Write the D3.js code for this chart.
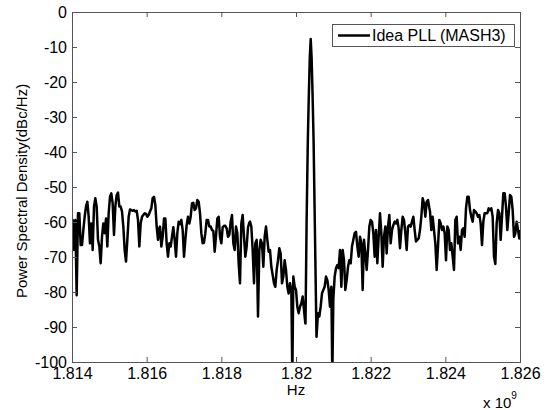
<!DOCTYPE html>
<html><head><meta charset="utf-8">
<script src="https://cdn.jsdelivr.net/npm/d3@7"></script>
<style>body{margin:0;background:#fff}svg{display:block}text{font-family:Arial,"Liberation Sans",sans-serif;fill:#000}</style>
</head><body><script>
const xTicks=[1814,1816,1818,1820,1822,1824,1826];
const xTickLabels=["1.814","1.816","1.818","1.82","1.822","1.824","1.826"];
const yTicks=[0,-10,-20,-30,-40,-50,-60,-70,-80,-90,-100];
const yTickLabels=["0","-10","-20","-30","-40","-50","-60","-70","-80","-90","-100"];
const seriesName="Idea PLL (MASH3)";
const xLabel="Hz", yLabel="Power Spectral Density(dBc/Hz)";
const freqMHz=[
1814.0000,1814.0179,1814.0536,1814.0893,1814.1250,1814.1607,1814.1964,1814.2321,1814.2679,1814.3036,
1814.3393,1814.3750,1814.4107,1814.4464,1814.4821,1814.5179,1814.5536,1814.5893,1814.6250,1814.6607,
1814.6964,1814.7321,1814.7679,1814.8036,1814.8393,1814.8750,1814.9107,1814.9464,1814.9821,1815.0179,
1815.0536,1815.0893,1815.1250,1815.1607,1815.1964,1815.2321,1815.2679,1815.3036,1815.3393,1815.3750,
1815.4107,1815.4464,1815.4821,1815.5179,1815.5536,1815.5893,1815.6250,1815.6607,1815.6964,1815.7321,
1815.7679,1815.8036,1815.8393,1815.8750,1815.9107,1815.9464,1815.9821,1816.0179,1816.0536,1816.0893,
1816.1250,1816.1607,1816.1964,1816.2321,1816.2679,1816.3036,1816.3393,
1816.3571,1816.3929,1816.4286,1816.4643,1816.5000,1816.5357,1816.5714,1816.6071,1816.6429,1816.6786,
1816.7143,1816.7500,1816.7857,1816.8214,1816.8571,1816.8929,1816.9286,1816.9643,1817.0000,1817.0357,
1817.0714,1817.1071,1817.1429,1817.1786,1817.2143,1817.2500,1817.2857,1817.3214,1817.3571,1817.3929,
1817.4286,1817.4643,1817.5000,1817.5357,1817.5714,1817.6071,1817.6429,1817.6786,1817.7143,1817.7500,
1817.7857,1817.8214,1817.8571,1817.8929,1817.9286,1817.9643,1818.0000,1818.0357,1818.0714,1818.1071,
1818.1429,1818.1786,1818.2143,1818.2500,1818.2857,1818.3214,1818.3571,1818.3929,1818.4286,1818.4643,
1818.5000,1818.5357,1818.5714,1818.6071,1818.6429,1818.6786,1818.7143,1818.7500,
1818.7679,1818.8036,1818.8393,1818.8750,1818.9107,1818.9464,1818.9821,1819.0179,1819.0536,1819.0893,
1819.1250,1819.1607,1819.1964,1819.2321,1819.2679,1819.3036,1819.3393,1819.3750,1819.4107,1819.4464,
1819.4821,1819.5179,1819.5536,1819.5893,1819.6250,1819.6607,1819.6964,1819.7321,1819.7679,1819.8036,
1819.8393,1819.8750,1819.9018,1819.9286,1819.9643,1820.0000,1820.0357,1820.0714,1820.1071,1820.1429,
1820.1786,1820.2143,1820.2500,
1820.2545,1820.2840,1820.3161,1820.3429,1820.3697,1820.3938,1820.4179,1820.4447,1820.4715,1820.5036,1820.5491,
1820.5893,1820.6250,1820.6607,1820.6964,1820.7321,1820.7679,1820.8036,1820.8393,1820.8750,1820.9107,
1820.9464,1820.9732,1821.0000,1821.0357,1821.0714,1821.1071,1821.1429,1821.1786,
1821.2143,1821.2500,1821.2857,1821.3214,1821.3571,1821.3929,1821.4286,1821.4643,1821.5000,1821.5357,
1821.5714,1821.6071,1821.6429,1821.6786,1821.7143,1821.7500,1821.7857,1821.8214,1821.8571,1821.8929,
1821.9286,1821.9643,1822.0000,1822.0357,1822.0714,1822.1071,1822.1429,1822.1786,1822.2143,1822.2500,
1822.2857,1822.3214,1822.3571,1822.3929,1822.4286,1822.4643,1822.5000,1822.5357,1822.5714,1822.6071,
1822.6429,1822.6786,1822.7143,1822.7500,1822.7857,1822.8214,1822.8571,1822.8929,1822.9286,1822.9643,
1823.0000,1823.0357,1823.0714,1823.1071,1823.1429,1823.1786,1823.2143,1823.2500,1823.2857,1823.3214,
1823.3571,1823.3929,1823.4286,1823.4643,1823.5000,1823.5357,1823.5714,
1823.5893,1823.6250,1823.6607,1823.6964,1823.7321,1823.7679,1823.8036,1823.8393,1823.8750,1823.9107,
1823.9464,1823.9821,1824.0179,1824.0536,1824.0893,1824.1250,1824.1607,1824.1964,1824.2321,1824.2679,
1824.3036,1824.3393,1824.3750,1824.4107,1824.4464,1824.4821,1824.5179,1824.5536,1824.5893,1824.6250,
1824.6607,1824.6964,1824.7321,1824.7679,1824.8036,1824.8393,1824.8750,1824.9107,1824.9464,1824.9821,
1825.0179,1825.0536,1825.0893,1825.1250,1825.1607,1825.1964,1825.2321,1825.2679,1825.3036,1825.3393,
1825.3750,1825.4107,1825.4464,1825.4821,1825.5179,1825.5536,1825.5893,1825.6250,1825.6607,1825.6964,
1825.7321,1825.7679,1825.8036,1825.8393,1825.8750,1825.9107,1825.9464,1825.9821,1826.0000
];
const psdDb=[
-64.2,-59.4,-68.0,-59.4,-80.9,-57.5,-57.5,-66.6,-66.6,-62.3,
-58.5,-55.6,-54.2,-58.5,-66.1,-60.4,-68.0,-55.6,-53.2,-55.6,
-65.1,-67.0,-71.8,-64.2,-60.4,-63.2,-59.0,-67.0,-57.5,-52.8,
-51.8,-54.7,-63.7,-55.6,-52.3,-51.6,-55.6,-55.6,-57.0,-61.3,
-68.0,-71.3,-65.1,-58.5,-56.4,-56.6,-56.8,-56.6,-57.0,-56.8,
-59.4,-67.0,-60.4,-58.5,-58.0,-57.5,-57.7,-58.5,-58.0,-57.0,
-56.1,-53.2,-52.8,-55.1,-61.3,-65.1,-61.8,
-61.3,-67.0,-64.2,-59.0,-59.0,-66.1,-69.9,-66.1,-67.0,-64.2,
-61.5,-65.1,-69.9,-63.2,-59.9,-60.6,-59.4,-62.3,-69.9,-65.1,
-60.9,-58.5,-60.4,-58.5,-54.7,-54.5,-56.6,-56.1,-53.7,-54.2,
-57.5,-63.2,-66.1,-65.9,-63.2,-59.4,-59.4,-61.3,-61.3,-62.3,
-62.5,-68.5,-64.0,-59.0,-58.5,-64.2,-66.1,-61.5,-61.1,-61.1,
-61.8,-64.2,-63.7,-59.9,-58.0,-66.1,-68.0,-61.3,-63.2,-71.8,
-77.5,-60.4,-58.0,-64.2,-69.9,-67.0,-61.5,-60.2,
-59.9,-61.3,-68.0,-77.5,-66.1,-65.1,-87.0,-68.0,-65.1,-66.1,
-72.8,-64.2,-61.3,-65.1,-68.5,-68.0,-72.8,-75.1,-77.5,-78.5,
-73.7,-70.9,-67.5,-69.0,-77.5,-75.6,-70.9,-73.7,-78.5,-80.4,
-77.5,-79.4,-104,-75.6,-78.5,-79.4,-84.2,-86.1,-84.2,-83.2,
-81.3,-85.1,-89.0,
-89.0,-60.0,-37.0,-24.0,-13.0,-7.7,-13.0,-24.0,-37.0,-60.0,-92.8,
-86.1,-87.0,-84.2,-80.4,-79.4,-78.5,-75.6,-76.6,-79.4,-84.2,
-78.5,-104,-82.0,-75.6,-73.2,-72.3,-73.2,-68.0,
-78.5,-68.0,-70.9,-79.4,-76.6,-72.8,-70.9,-71.8,-67.0,-65.1,
-63.2,-62.8,-67.0,-69.9,-64.2,-66.1,-79.4,-65.1,-69.0,-73.7,
-68.0,-61.3,-59.4,-59.9,-63.2,-69.9,-62.3,-71.8,-64.2,-57.5,
-63.2,-72.8,-64.2,-61.3,-69.0,-61.3,-58.0,-66.1,-62.3,-60.9,
-59.9,-60.4,-59.4,-61.8,-67.5,-62.3,-58.5,-59.4,-63.2,-68.0,
-61.3,-60.9,-61.3,-59.9,-58.5,-62.3,-65.6,-65.1,-64.7,-62.3,
-58.5,-53.2,-54.7,-58.5,-54.2,-53.7,-56.0,
-57.0,-62.3,-58.5,-62.3,-66.1,-73.7,-67.0,-59.4,-60.4,-62.3,
-61.3,-63.2,-70.9,-61.3,-62.3,-68.0,-66.1,-69.9,-73.7,-59.4,
-58.5,-66.1,-64.2,-68.0,-62.3,-61.8,-64.2,-56.1,-52.8,-52.8,
-56.6,-58.5,-59.9,-56.6,-57.0,-57.5,-58.5,-58.0,-60.4,-66.6,
-59.9,-57.5,-57.5,-57.5,-56.1,-56.6,-56.1,-58.5,-69.9,-72.0,
-60.4,-56.6,-57.5,-65.1,-58.5,-51.8,-51.8,-55.6,-62.3,-57.5,
-52.3,-52.8,-56.6,-64.2,-63.2,-59.9,-62.3,-64.7,-62.3
];

const W=549,H=410;
const m={l:72,r:520,t:12,b:362};
const svg=d3.select("body").append("svg").attr("width",W).attr("height",H);
const x=d3.scaleLinear().domain([1814,1826]).range([m.l,m.r]);
const y=d3.scaleLinear().domain([-100,0]).range([m.b,m.t]);
const axisCol="#555";

svg.append("defs").append("clipPath").attr("id","clip")
  .append("rect").attr("x",m.l).attr("y",m.t).attr("width",m.r-m.l).attr("height",m.b-m.t);

const data=freqMHz.map((f,i)=>({f,v:psdDb[i]}));
svg.append("path").datum(data)
  .attr("clip-path","url(#clip)")
  .attr("fill","none").attr("stroke","#000").attr("stroke-width",2.5)
  .attr("stroke-linejoin","round")
  .attr("d",d3.line().x(d=>x(d.f)).y(d=>y(d.v)));

const fs=16;
const axBottom=d3.axisBottom(x).tickValues(xTicks).tickSize(-5).tickPadding(6)
  .tickFormat((d,i)=>xTickLabels[i]);
const gB=svg.append("g").attr("transform",`translate(0,${m.b})`).call(axBottom);
const axLeft=d3.axisLeft(y).tickValues(yTicks).tickSize(-5).tickPadding(5)
  .tickFormat((d,i)=>yTickLabels[i]);
const gL=svg.append("g").attr("transform",`translate(${m.l},0)`).call(axLeft);
const axTop=d3.axisTop(x).tickValues(xTicks).tickSize(-5).tickFormat("");
const gT=svg.append("g").attr("transform",`translate(0,${m.t})`).call(axTop);
const axRight=d3.axisRight(y).tickValues(yTicks).tickSize(-5).tickFormat("");
const gR=svg.append("g").attr("transform",`translate(${m.r},0)`).call(axRight);
[gB,gL,gT,gR].forEach(g=>{
  g.select(".domain").attr("stroke",axisCol).attr("stroke-width",1);
  g.selectAll(".tick line").attr("stroke",axisCol);
  g.selectAll("text").attr("font-size",fs).attr("font-family","Arial, 'Liberation Sans', sans-serif").attr("fill","#000");
});

svg.append("text").attr("x",296).attr("y",395).attr("text-anchor","middle").attr("font-size",15).text(xLabel);
const xe=svg.append("text").attr("x",483).attr("y",408).attr("font-size",15);
xe.append("tspan").text("x 10");
xe.append("tspan").attr("dy",-9).attr("font-size",10).text("9");
svg.append("text").attr("transform","translate(27,191) rotate(-90)")
  .attr("text-anchor","middle").attr("font-size",15).text(yLabel);

const lg=svg.append("g");
lg.append("rect").attr("x",332.5).attr("y",24.5).attr("width",182).attr("height",22)
  .attr("fill","#fff").attr("stroke",axisCol).attr("stroke-width",1);
lg.append("line").attr("x1",338).attr("x2",370).attr("y1",35.5).attr("y2",35.5)
  .attr("stroke","#000").attr("stroke-width",2.5);
lg.append("text").attr("x",372).attr("y",41).attr("font-size",16).text(seriesName);
</script></body></html>
